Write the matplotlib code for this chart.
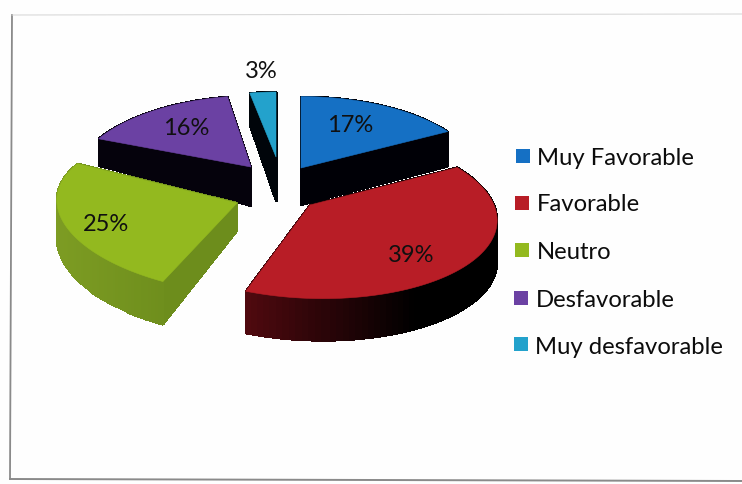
import numpy as np
import matplotlib
matplotlib.use("Agg")
import matplotlib.pyplot as plt
from matplotlib.patches import Polygon, Rectangle
from matplotlib.colors import to_rgb

# Survey results
categories = ["Muy Favorable", "Favorable", "Neutro", "Desfavorable", "Muy desfavorable"]
percentages = [17, 39, 25, 16, 3]

# Appearance of each slice
top_colors = ["#1570c4", "#b81d26", "#93b91f", "#6b41a3", "#23a2cc"]
side_near = ["#000006", "#50090f", "#7d9c23", "#05020c", "#00050a"]
side_far = ["#000006", "#000000", "#6d8d1c", "#05020c", "#00050a"]
apex_px = [(301, 169), (310, 206), (237, 204), (251, 168), (276, 158)]
scale_x = [1.03, 1.07, 1.04, 1.01, 0.91]
scale_y = [1.0, 1.03, 1.0, 1.0, 0.91]
shear_x = [0.0, 0.14, 0.0, -0.08, 0.0]
shear_y = [0.0, 0.0, 0.07, 0.0, 0.0]
depth_apex = [37, 38, 28, 39, 44]
depth_rim = [35, 42, 38, 27, 32]
label_px = [(350, 125), (411, 255), (106, 225), (186, 129), (261, 72)]

RX, RY, PERSP = 172.0, 80.0, 0.12
draw_order = [4, 3, 0, 2, 1]

plt.rcParams["font.family"] = ["Lato", "DejaVu Sans"]
fig = plt.figure(figsize=(7.42, 4.85), dpi=100, facecolor="#fefefe")
ax = fig.add_axes([0, 0, 1, 1])
ax.set_xlim(0, 742)
ax.set_ylim(485, 0)
ax.axis("off")


def project(x, y):
    """Perspective projection of disc coordinates, y grows toward the viewer."""
    s = 1.0 / (1.0 - PERSP * y)
    return RX * x * s, RY * y * s


def blend(c1, c2, t):
    a, b = np.array(to_rgb(c1)), np.array(to_rgb(c2))
    return tuple(a + (b - a) * t)


# Slice boundaries in degrees, clockwise from twelve o'clock
edges = np.concatenate([[0], np.cumsum(percentages)]) * 360.0 / sum(percentages)

for i in draw_order:
    theta = np.radians(np.linspace(edges[i], edges[i + 1], 80))
    xs, ys = project(np.sin(theta), -np.cos(theta))
    xs, ys = xs * scale_x[i], ys * scale_y[i]
    xs, ys = xs + shear_x[i] * ys, ys + shear_y[i] * xs
    ax0, ay0 = apex_px[i]
    outline = np.column_stack([
        np.concatenate([[ax0], ax0 + xs]),
        np.concatenate([[ay0], ay0 + ys]),
    ])
    depth = np.concatenate([[depth_apex[i]], np.full(xs.size, depth_rim[i])])
    if i == 2:
        # the near rim of this slice drops a little further than the far rim
        depth[1:] = depth_rim[i] + 6 * np.clip(-np.cos(theta), 0, 1)

    # side walls, far edges first so nearer walls paint over them
    count = len(outline)
    quads = []
    for k in range(count):
        n = (k + 1) % count
        p, q = outline[k], outline[n]
        quads.append(((p[1] + q[1]) / 2, k, n))
    span = max(outline[:, 0].max() - outline[:, 0].min(), 1)
    for _, k, n in sorted(quads):
        p, q = outline[k], outline[n]
        t = np.clip((q[0] + p[0]) / 2 - outline[:, 0].min(), 0, span) / span
        t = np.clip(t * 1.5, 0, 1)
        col = blend(side_near[i], side_far[i], t)
        ax.add_patch(Polygon([p, q, q + [0, depth[n]], p + [0, depth[k]]],
                             closed=True, facecolor=col, edgecolor=col, lw=0.8,
                             antialiased=False))

    ax.add_patch(Polygon(outline, closed=True, facecolor=top_colors[i],
                         edgecolor=top_colors[i], lw=0.4))

for (lx, ly), value in zip(label_px, percentages):
    ax.text(lx, ly, f"{value}%", fontsize=17, color="#101010", ha="center", va="center")

# Legend keys and captions
key_x = [516, 515, 515, 514, 514]
key_y = [150, 197, 244, 292, 338]
text_x = [537, 537, 537, 536, 535]
baselines = [165, 211, 259, 307, 354]
for i, name in enumerate(categories):
    ax.add_patch(Rectangle((key_x[i], key_y[i]), 14, 14, facecolor=top_colors[i], edgecolor="none"))
    ax.text(text_x[i], baselines[i], name, fontsize=17.2, color="#0c0c0c", ha="left", va="baseline")

# Chart border
ax.plot([12, 10], [16, 480], color="#8a8a8a", lw=1.3)
ax.plot([10, 742], [480, 482], color="#8a8a8a", lw=1.4)
ax.plot([12, 742], [16, 15], color="#d4d4d4", lw=0.7)

fig.savefig("out.png", dpi=100, facecolor=fig.get_facecolor())
